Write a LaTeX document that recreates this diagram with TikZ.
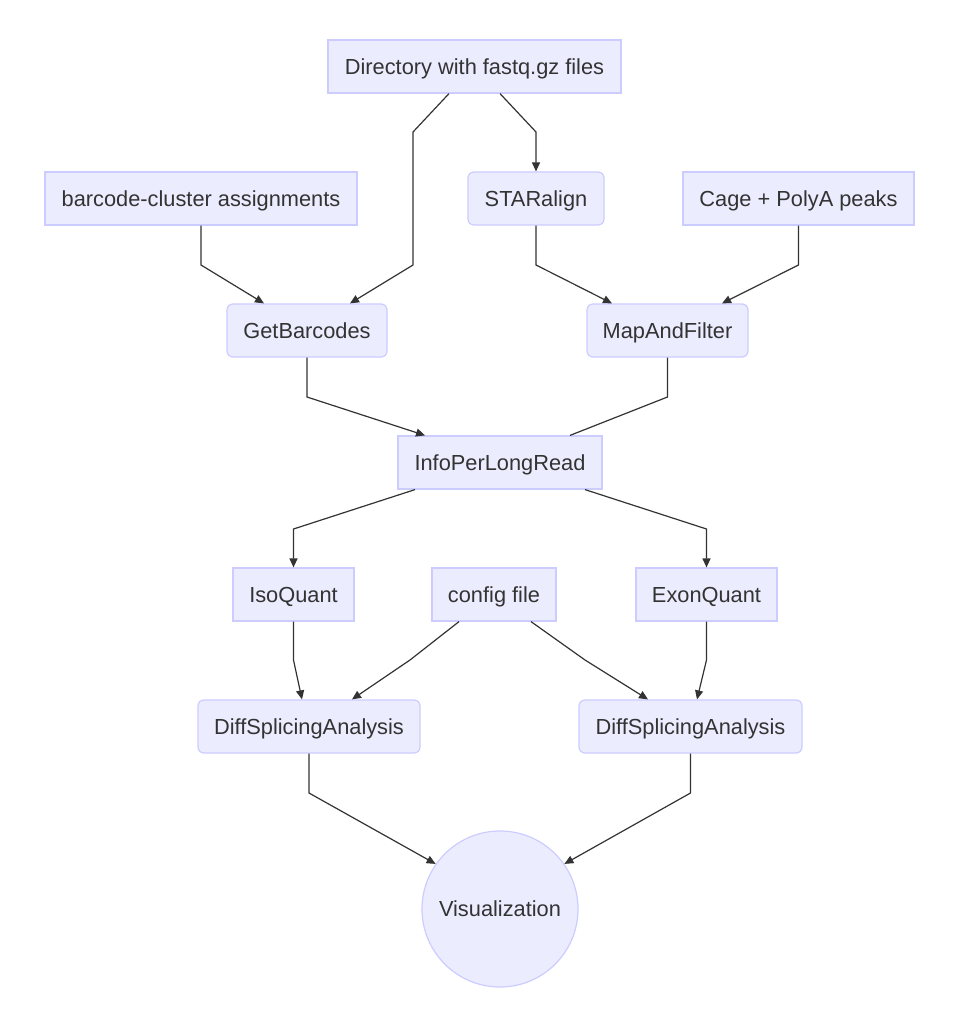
\documentclass[tikz,border=0pt]{standalone}
\usepackage{fontspec}
\setmainfont{Liberation Sans}
\usetikzlibrary{arrows.meta}
\definecolor{nfill}{HTML}{ECECFF}
\definecolor{nstroke}{HTML}{CCCCFF}
\definecolor{ntext}{HTML}{333333}
\begin{document}
\begin{tikzpicture}[x=1pt,y=-1pt,
  lbl/.style={text=ntext,text height=18pt,text depth=2.4pt,font=\fontsize{21.8}{26}\selectfont},
  box/.style={lbl,draw=nstroke,fill=nfill,line width=1.2pt,inner sep=0pt,minimum height=53pt},
  rbox/.style={box,rounded corners=6pt},
  circ/.style={lbl,circle,draw=nstroke,fill=nfill,line width=1.2pt,inner sep=0pt,minimum size=156pt},
  arr/.style={draw=ntext,line width=1.2pt,-{Triangle[length=9pt,width=8pt]}},
  lin/.style={draw=ntext,line width=1.2pt}]
\useasboundingbox (0,0) rectangle (968,1011);
\fill[white] (0,0) rectangle (968,1011);
\node[box,minimum width=293pt] (dir) at (474.5,66.5) {Directory with fastq.gz files};
\node[box,minimum width=312pt] (bca) at (201,198.5) {barcode-cluster assignments};
\node[rbox,minimum width=136pt] (star) at (536,198.5) {STARalign};
\node[box,minimum width=231pt] (cage) at (798.5,198.5) {Cage + PolyA peaks};
\node[rbox,minimum width=160pt] (gb) at (307,330.5) {GetBarcodes};
\node[rbox,minimum width=161pt] (maf) at (667.5,330.5) {MapAndFilter};
\node[box,minimum width=204pt] (info) at (500,462.5) {InfoPerLongRead};
\node[box,minimum width=121pt] (iso) at (293.5,594.5) {IsoQuant};
\node[box,minimum width=124pt] (cfg) at (494,594.5) {config file};
\node[box,minimum width=141pt] (exon) at (706.5,594.5) {ExonQuant};
\node[rbox,minimum width=222pt] (dsl) at (309,726.5) {DiffSplicingAnalysis};
\node[rbox,minimum width=223pt] (dsr) at (690.5,726.5) {DiffSplicingAnalysis};
\node[circ] (vis) at (500,909) {Visualization};

\draw[arr] ([xshift=-25.5pt]dir.south) -- (413,132) -- (413,265) -- ([xshift=43pt]gb.north);
\draw[arr] ([xshift=25.5pt]dir.south) -- (536,132) -- (star.north);
\draw[arr] (bca.south) -- (201,265) -- ([xshift=-43pt]gb.north);
\draw[arr] (star.south) -- (536,265) -- ([xshift=-55.5pt]maf.north);
\draw[arr] (cage.south) -- (798.5,265) -- ([xshift=54.5pt]maf.north);
\draw[arr] (gb.south) -- (307,397) -- ([xshift=-75pt]info.north);
\draw[lin] (maf.south) -- (667.5,397) -- ([xshift=70pt]info.north);
\draw[arr] ([xshift=-85pt]info.south) -- (293.5,529) -- (iso.north);
\draw[arr] ([xshift=85pt]info.south) -- (706.5,529) -- (exon.north);
\draw[arr] (iso.south) -- (293.5,660) -- ([xshift=-7pt]dsl.north);
\draw[arr] ([xshift=-35pt]cfg.south) -- (410,660) -- ([xshift=43pt]dsl.north);
\draw[arr] ([xshift=37pt]cfg.south) -- (585,660) -- ([xshift=-42.5pt]dsr.north);
\draw[arr] (exon.south) -- (706.5,660) -- ([xshift=6.5pt]dsr.north);
\draw[arr] (dsl.south) -- (309,793) -- (vis.145);
\draw[arr] (dsr.south) -- (690.5,793) -- (vis.35);
\end{tikzpicture}
\end{document}
